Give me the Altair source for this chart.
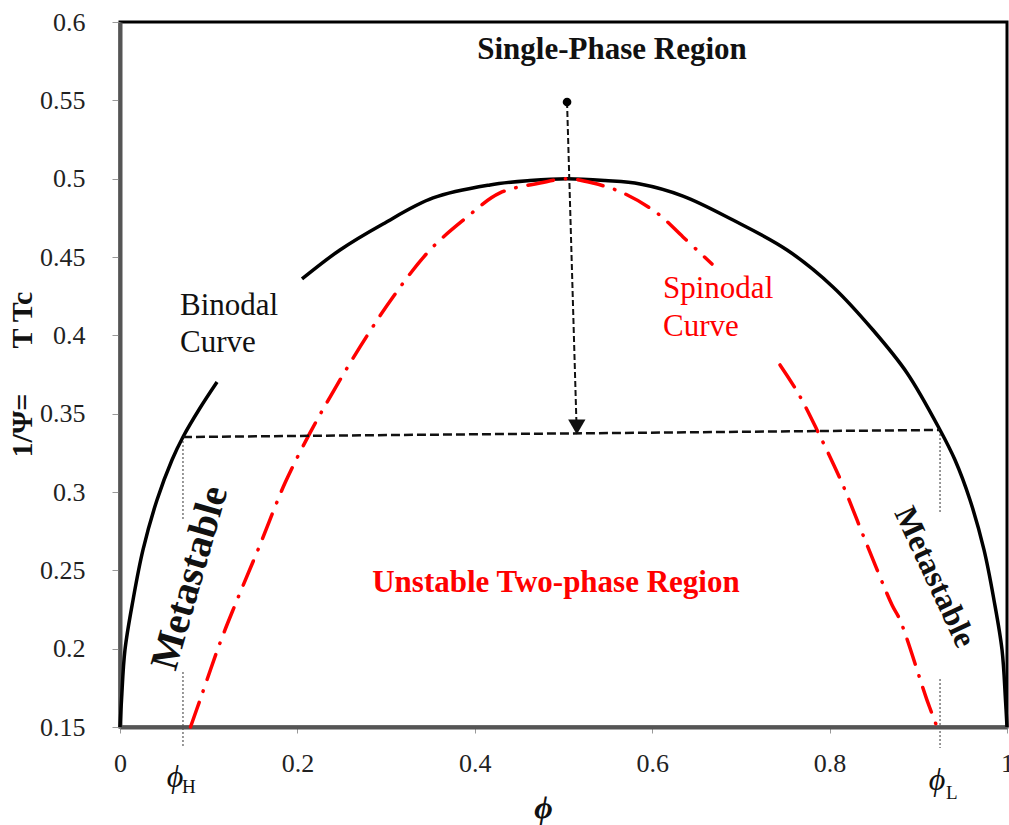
import altair as alt
import pandas as pd

FONT = "Liberation Serif, DejaVu Serif, serif"
W, H = 887, 705

# ---- data ----
x_ticks = [0, 0.2, 0.4, 0.6, 0.8, 1]
y_ticks = [0.15, 0.2, 0.25, 0.3, 0.35, 0.4, 0.45, 0.5, 0.55, 0.6]

# Binodal curve (black, solid); segment 2 resumes after the label gap
binodal_phi = [0.0, 0.0017, 0.0056, 0.0147, 0.0259, 0.0417, 0.0586, 0.0710, 0.0902, 0.1094,
               0.2052, 0.2480, 0.2965, 0.3529, 0.4171, 0.4622, 0.5040, 0.5468, 0.5863, 0.6347,
               0.6911, 0.7520, 0.8038, 0.8489, 0.8873, 0.9245, 0.9414, 0.9583, 0.9741, 0.9853,
               0.9944, 0.9983, 1.0]
binodal_t = [0.150, 0.1672, 0.1992, 0.2311, 0.2630, 0.2949, 0.3204, 0.3351, 0.3536, 0.3702,
             0.4360, 0.4545, 0.4711, 0.4877, 0.4960, 0.4988, 0.5000, 0.4988, 0.4966, 0.4889,
             0.4736, 0.4545, 0.4309, 0.4034, 0.3760, 0.3396, 0.3204, 0.2949, 0.2630, 0.2311,
             0.1992, 0.1672, 0.150]
binodal_seg = [1] * 10 + [2] * 23

# Spinodal curve (red, dash-dot); segment 2 resumes after the label gap
spinodal_phi = [0.0795, 0.0902, 0.1127, 0.1297, 0.1578, 0.1860, 0.2142, 0.2368, 0.2706, 0.3078,
                0.3495, 0.3912, 0.4284, 0.4735, 0.5040, 0.5333, 0.5671, 0.6054, 0.6347, 0.6674,
                0.7441, 0.7644, 0.7858, 0.8140, 0.8422, 0.8704, 0.8794, 0.9098, 0.9211]
spinodal_t = [0.150, 0.1672, 0.2036, 0.2279, 0.2662, 0.3057, 0.3377, 0.3606, 0.3926, 0.4245,
              0.4545, 0.4755, 0.4909, 0.4972, 0.5000, 0.4972, 0.4909, 0.4781, 0.4628, 0.4455,
              0.3811, 0.3632, 0.3396, 0.3057, 0.2662, 0.2279, 0.2183, 0.1672, 0.150]
spinodal_seg = [1] * 20 + [2] * 9

# tie line (quench temperature) and quench arrow
tie_phi = [0.0710, 0.9245]
tie_t = [0.3351, 0.3396]
arrow_phi = [0.5040, 0.5146]
arrow_t = [0.5489, 0.3440]
head_phi = [0.5150]
head_t = [0.3415]
dot_phi = [0.5040]
dot_t = [0.5489]

# dotted guides at phi_H and phi_L
guide_phi = [0.0710, 0.0710, 0.9245, 0.9245]
guide_top = [0.3351, 0.1851, 0.3396, 0.1806]
guide_bottom = [0.2821, 0.1366, 0.2866, 0.1366]

# ---- encodings ----
X_ENC = alt.X(
    "phi:Q",
    scale=alt.Scale(domain=[0, 1], nice=False, zero=False),
    axis=alt.Axis(
        values=x_ticks, format="~g", title="ϕ", grid=False,
        labelFont=FONT, labelFontSize=26, labelColor="#222", labelPadding=17,
        labelFlush=False, labelOverlap=False,
        tickColor="#999", tickSize=6, tickWidth=1,
        domainColor="#555", domainWidth=4,
        titleFont=FONT, titleFontSize=32, titleFontStyle="italic", titleFontWeight="bold",
        titleColor="#111", titleX=423, titleY=80, titleAlign="center", titleBaseline="middle",
    ),
)
Y_ENC = alt.Y(
    "t:Q",
    scale=alt.Scale(domain=[0.15, 0.6], nice=False, zero=False),
    axis=alt.Axis(
        values=y_ticks, format="~g", title="1/Ψ=\u00a0\u00a0\u00a0\u00a0\u00a0\u00a0T Tc", grid=False,
        labelFont=FONT, labelFontSize=26, labelColor="#222", labelPadding=27,
        labelOverlap=False,
        tickColor="#999", tickSize=8, tickWidth=1,
        domainColor="#555", domainWidth=4,
        titleFont=FONT, titleFontSize=30, titleFontWeight="bold", titleColor="#111",
        titleAngle=270, titleX=-98, titleY=352, titleAlign="center", titleBaseline="middle",
    ),
)

binodal_df = pd.DataFrame({"phi": binodal_phi, "t": binodal_t, "seg": binodal_seg})
spinodal_df = pd.DataFrame({"phi": spinodal_phi, "t": spinodal_t, "seg": spinodal_seg})
tie_df = pd.DataFrame({"phi": tie_phi, "t": tie_t})
arrow_df = pd.DataFrame({"phi": arrow_phi, "t": arrow_t})
head_df = pd.DataFrame({"phi": head_phi, "t": head_t})
dot_df = pd.DataFrame({"phi": dot_phi, "t": dot_t})
guide_df = pd.DataFrame({"phi": guide_phi, "t": guide_top, "t2": guide_bottom})

guides = alt.Chart(guide_df).mark_rule(color="#555", strokeWidth=1.2, strokeDash=[2, 2]).encode(
    x=X_ENC, y=Y_ENC, y2="t2:Q")

binodal = alt.Chart(binodal_df).mark_line(color="black", strokeWidth=3.5, interpolate="catmull-rom").encode(
    x=X_ENC, y=Y_ENC, detail="seg:N")

spinodal = alt.Chart(spinodal_df).mark_line(
    color="#ff0000", strokeWidth=3.5, interpolate="catmull-rom",
    strokeDash=[26, 12, 0.5, 12], strokeCap="round").encode(
    x=X_ENC, y=Y_ENC, detail="seg:N")

tie = alt.Chart(tie_df).mark_line(color="#111", strokeWidth=2.5, strokeDash=[9, 4]).encode(x=X_ENC, y=Y_ENC)
arrow = alt.Chart(arrow_df).mark_line(color="#111", strokeWidth=2, strokeDash=[6, 3]).encode(x=X_ENC, y=Y_ENC)
head = alt.Chart(head_df).mark_point(shape="triangle-down", filled=True, size=300, color="#111", opacity=1).encode(
    x=X_ENC, y=Y_ENC)
dot = alt.Chart(dot_df).mark_point(shape="circle", filled=True, size=75, color="black", opacity=1).encode(
    x=X_ENC, y=Y_ENC)


def label(text, phi, t, **kw):
    df = pd.DataFrame({"phi": [phi], "t": [t], "label": [text]})
    return alt.Chart(df).mark_text(font=FONT, **kw).encode(x=X_ENC, y=Y_ENC, text="label:N")


texts = [
    label("Single-Phase Region", 0.5547, 0.5764, fontSize=31, fontWeight="bold", color="#111",
          align="center", baseline="alphabetic"),
    label("Unstable Two-phase Region", 0.4915, 0.2419, fontSize=31, fontWeight="bold", color="#ff0000",
          align="center", baseline="middle"),
    label("Binodal", 0.0676, 0.4130, fontSize=31, color="#111", align="left", baseline="alphabetic"),
    label("Curve", 0.0676, 0.3894, fontSize=31, color="#111", align="left", baseline="alphabetic"),
    label("Spinodal", 0.6122, 0.4238, fontSize=31, color="#ff0000", align="left", baseline="alphabetic"),
    label("Curve", 0.6122, 0.3996, fontSize=31, color="#ff0000", align="left", baseline="alphabetic"),
    label("Metastable", 0.0789, 0.2451, fontSize=40, fontWeight="bold", color="#111", angle=286,
          align="center", baseline="middle"),
    label("Metastable", 0.9188, 0.2458, fontSize=32, fontWeight="bold", color="#111", angle=65,
          align="center", baseline="middle"),
    label("ϕ", 0.0620, 0.1117, fontSize=32, fontStyle="italic", color="#111", align="center",
          baseline="alphabetic"),
    label("H", 0.0699, 0.1079, fontSize=19, color="#111", align="left", baseline="alphabetic"),
    label("ϕ", 0.9211, 0.1098, fontSize=32, fontStyle="italic", color="#111", align="center",
          baseline="alphabetic"),
    label("L", 0.9312, 0.1040, fontSize=19, color="#111", align="left", baseline="alphabetic"),
]

chart = alt.layer(guides, binodal, spinodal, tie, arrow, head, dot, *texts).properties(
    width=W, height=H,
    autosize=alt.AutoSizeParams(type="none"),
    padding={"left": 120, "top": 22, "right": 2, "bottom": 98},
    background="white",
).configure_view(stroke="black", strokeWidth=3)

chart.save("out.html", embed_options={"renderer": "svg", "actions": False})
